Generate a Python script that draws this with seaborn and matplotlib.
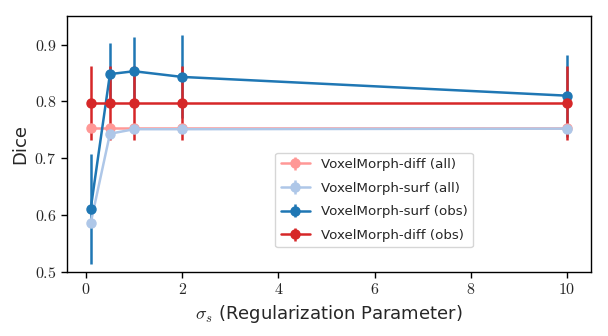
import numpy as np
import matplotlib
matplotlib.use("Agg")
import matplotlib.pyplot as plt
import seaborn as sns
from matplotlib.ticker import FuncFormatter

sigma = [0.1, 0.5, 1, 2, 10]

diff_all = [0.753, 0.753, 0.753, 0.753, 0.753]
diff_all_err = [0.004, 0.004, 0.004, 0.004, 0.004]
surf_all = [0.586, 0.743, 0.751, 0.751, 0.752]
surf_all_err = [0.004, 0.004, 0.004, 0.004, 0.004]
surf_obs = [0.611, 0.848, 0.853, 0.843, 0.810]
surf_obs_err = [0.097, 0.055, 0.060, 0.073, 0.072]
diff_obs = [0.797, 0.797, 0.797, 0.797, 0.797]
diff_obs_err = [0.065, 0.065, 0.065, 0.065, 0.065]

labels = ["VoxelMorph-diff (all)", "VoxelMorph-surf (all)",
          "VoxelMorph-surf (obs)", "VoxelMorph-diff (obs)"]

sns.set_theme(style="ticks")
plt.rcParams["font.family"] = ["DejaVu Sans"]
plt.rcParams["mathtext.fontset"] = "cm"

pal = sns.color_palette("tab20")
colors = [pal[7], pal[1], pal[0], pal[6]]
series = [(diff_all, diff_all_err), (surf_all, surf_all_err),
          (surf_obs, surf_obs_err), (diff_obs, diff_obs_err)]

fig = plt.figure(figsize=(6.08, 3.36), dpi=100)
ax = fig.add_axes([0.110, 0.191, 0.862, 0.761])

for (y, e), c, lab in zip(series, colors, labels):
    ax.errorbar(sigma, y, yerr=e, color=c, marker="o", markersize=6.5,
                linewidth=1.8, elinewidth=1.8, label=lab)

ax.set_ylim(0.5, 0.95)
ax.set_xticks([0, 2, 4, 6, 8, 10])
ax.set_yticks([0.5, 0.6, 0.7, 0.8, 0.9])
ax.xaxis.set_major_formatter(FuncFormatter(lambda v, p: f"${v:g}$"))
ax.yaxis.set_major_formatter(FuncFormatter(lambda v, p: f"${v:.1f}$"))
ax.tick_params(labelsize=11.5, length=4, width=1, color="black")
for s in ax.spines.values():
    s.set_color("black")
    s.set_linewidth(1)

ax.set_xlabel(r"$\sigma_s$ (Regularization Parameter)", fontsize=13)
ax.set_ylabel("Dice", fontsize=13)

ax.legend(loc="lower left", bbox_to_anchor=(0.385, 0.07), fontsize=9.6,
          frameon=True, handlelength=2.2, labelspacing=0.8)

fig.savefig("out.png", dpi=100)
